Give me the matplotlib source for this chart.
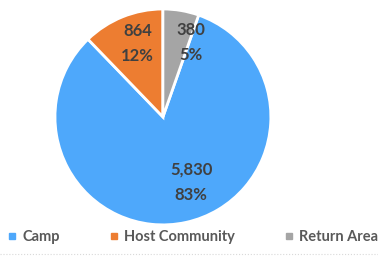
import numpy as np
import matplotlib.pyplot as plt
from matplotlib.lines import Line2D

categories = ["Camp", "Host Community", "Return Area"]
values = [5830, 864, 380]
value_labels = ["5,830", "864", "380"]
pct_labels = ["83%", "12%", "5%"]
colors = ["#4EA8FB", "#ED7D31", "#A5A5A5"]

plt.rcParams['font.family'] = ['Lato', 'DejaVu Sans']

fig = plt.figure(figsize=(3.78, 2.57), dpi=100)
ax = fig.add_axes([0.431 - 0.2857, 0.545 - 0.42, 0.5714, 0.84])

total = sum(values)
start = 90 - 360 * values[-1] / total
ax.pie(values, colors=colors, startangle=start, counterclock=False,
       wedgeprops={'edgecolor': 'white', 'linewidth': 2})

# data labels (value + percent) placed inside each slice
angles = []
a = start
for v in values:
    span = 360 * v / total
    angles.append(a - span / 2)
    a -= span
dist = [0.66, 0.72, 0.74]
shift = [11, -3, -11]
for i in range(len(values)):
    th = np.deg2rad(angles[i] + shift[i])
    ax.text(dist[i] * np.cos(th), dist[i] * np.sin(th), value_labels[i] + "\n" + pct_labels[i],
            ha='center', va='center', fontsize=12, fontweight='bold', color='#404040',
            linespacing=1.7)
ax.set_xlim(-1, 1)
ax.set_ylim(-1, 1)
ax.set_aspect('equal')

handles = [Line2D([], [], marker='s', linestyle='', markersize=5, color=c) for c in colors]
leg = fig.legend(handles, categories, loc='lower center', bbox_to_anchor=(0.51, 0.0), ncol=3,
                 frameon=False, handlelength=0.6, handletextpad=0.4, fontsize=10.5,
                 columnspacing=3.4, labelcolor='#595959')
for t in leg.get_texts():
    t.set_fontweight('bold')

fig.add_artist(Line2D([0, 1], [0.012, 0.012], transform=fig.transFigure, color='#D9D9D9',
                      linestyle=':', linewidth=0.8))

fig.savefig("out.png", dpi=100)
